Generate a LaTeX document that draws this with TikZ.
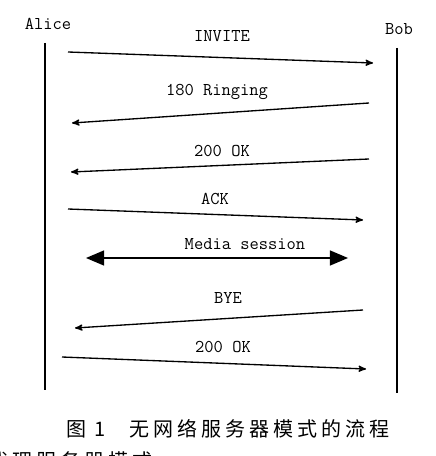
\documentclass[tikz,border=0pt]{standalone}
\usepackage{fontspec}
\newfontfamily\cjk[LetterSpace=20]{Noto Sans CJK SC}
\usetikzlibrary{positioning, arrows}
\tikzset{
    %Define standard arrow tip
    >=stealth',
    %Define style for the party names
    party/.style={
           font=\ttfamily\fontsize{13.5}{15}\selectfont,
           inner sep=0pt},
    %Define style for message labels
    msg/.style={
           font=\ttfamily\fontsize{13.5}{15}\selectfont,
           inner sep=0pt},
    % Define style for the life lines
    life/.style={
           line width=2.2pt},
    % Define arrow style
    pil/.style={
           ->,
           line width=1pt},
    media/.style={
           <->,
           line width=2.2pt,
           >=triangle 45},
    %caption text
    capt/.style={
           font=\cjk\fontsize{15}{16}\selectfont,
           inner sep=0pt,
           anchor=west}
}

\begin{document}
\begin{tikzpicture}[x=0.75pt,y=-0.75pt]

\useasboundingbox (0,0) rectangle (435,456);

\node[party] (Alice) at (48,24) {Alice};
\node[party] (Bob) at (399,29) {Bob};

\coordinate (At) at (45,43);
\coordinate (Ab) at (45,390);
\coordinate (Bt) at (397,48);
\coordinate (Bb) at (397,393);

\draw[life] (At) -- (Ab);
\draw[life] (Bt) -- (Bb);

%messages
\coordinate (inv1) at (68,52);   \coordinate (inv2) at (373,63);
\coordinate (rng1) at (369,103); \coordinate (rng2) at (72,123);
\coordinate (ok1)  at (369,159); \coordinate (ok2)  at (71,172);
\coordinate (ack1) at (68,209);  \coordinate (ack2) at (363,220);
\coordinate (med1) at (86,258);  \coordinate (med2) at (348,258);
\coordinate (bye1) at (363,310); \coordinate (bye2) at (75,328);
\coordinate (fin1) at (62,357);  \coordinate (fin2) at (366,369);

\node[msg] (INV) at (222,36)  {INVITE};
\node[msg] (RNG) at (217,92)  {180 Ringing};
\node[msg] (OK)  at (222,151) {200 OK};
\node[msg] (ACK) at (215,199) {ACK};
\node[msg] (MED) at (245,244) {Media session};
\node[msg] (BYE) at (228,298) {BYE};
\node[msg] (FIN) at (223,347) {200 OK};

\path
(inv1) edge[pil] (inv2)
(rng1) edge[pil] (rng2)
(ok1)  edge[pil] (ok2)
(ack1) edge[pil] (ack2)
(med1) edge[media] (med2)
(bye1) edge[pil] (bye2)
(fin1) edge[pil] (fin2);

%caption
\node[capt] (cap) at (66,429) {图 1\hspace{1.2em}无网络服务器模式的流程};
\node[capt] (cut) at (-12,461) {代理服务器模式};

\end{tikzpicture}
\end{document}
